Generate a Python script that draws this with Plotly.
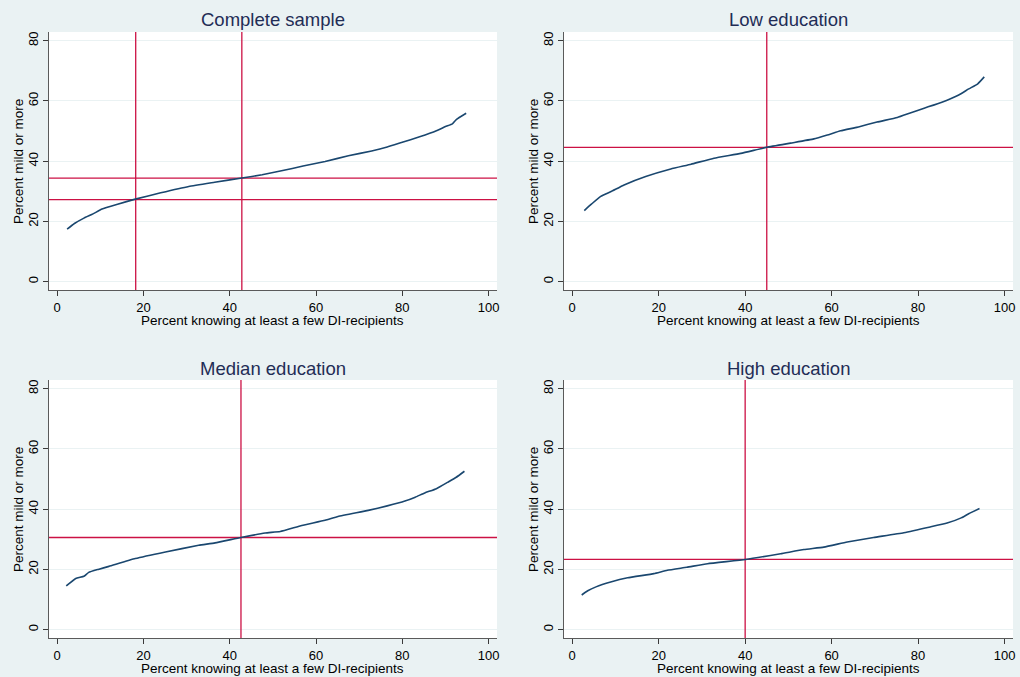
import plotly.graph_objects as go

# ---------------- data ----------------
titles = ["Complete sample", "Low education", "Median education", "High education"]

x_complete = [2.3, 4.0, 6.2, 8.3, 10.4, 14.0, 18.1, 24.0, 30.5, 36.5, 42.8, 47.5, 52.0, 57.0, 62.1, 67.5, 72.9, 76.5, 79.8, 84.0, 87.9, 90.0, 91.6, 92.5, 94.8]
y_complete = [17.4, 19.3, 21.1, 22.5, 24.1, 25.7, 27.4, 29.5, 31.6, 33.0, 34.4, 35.5, 36.8, 38.4, 39.9, 41.8, 43.4, 44.7, 46.2, 48.1, 50.1, 51.5, 52.4, 53.8, 55.9]

x_low = [2.8, 4.5, 6.6, 9.0, 12.0, 17.0, 22.8, 27.5, 32.8, 39.0, 45.0, 50.5, 55.9, 59.0, 62.1, 66.0, 70.5, 75.2, 78.0, 81.4, 85.5, 89.4, 91.7, 93.8, 95.3]
y_low = [23.6, 25.8, 28.3, 29.9, 32.1, 34.9, 37.4, 39.0, 41.0, 42.6, 44.6, 46.0, 47.4, 48.7, 50.1, 51.3, 53.0, 54.5, 55.9, 57.6, 59.6, 62.0, 64.0, 65.7, 68.0]

x_median = [2.1, 4.3, 6.2, 7.3, 9.5, 12.0, 18.1, 25.1, 32.8, 36.6, 42.6, 48.2, 51.7, 56.7, 62.1, 65.1, 72.1, 76.5, 80.6, 83.0, 85.2, 87.9, 90.6, 92.5, 94.4]
y_median = [14.5, 17.0, 17.7, 19.0, 20.0, 21.0, 23.6, 25.8, 28.0, 28.8, 30.6, 32.1, 32.6, 34.6, 36.3, 37.6, 39.6, 41.1, 42.7, 44.0, 45.4, 46.8, 49.0, 50.6, 52.6]

x_high = [2.2, 3.6, 5.5, 8.9, 12.8, 18.9, 22.0, 26.5, 31.3, 40.1, 48.2, 53.6, 58.2, 63.6, 69.7, 76.7, 82.8, 86.7, 90.1, 91.7, 94.2]
y_high = [11.5, 12.9, 14.2, 15.8, 17.2, 18.6, 19.7, 20.7, 21.9, 23.3, 25.2, 26.6, 27.4, 29.1, 30.6, 32.2, 34.1, 35.4, 37.2, 38.5, 40.2]

vlines = [[18.2, 42.8], [45.0], [42.6], [40.0]]
hlines = [[34.4, 27.2], [44.6], [30.6], [23.3]]

x_ticks = [0, 20, 40, 60, 80, 100]
y_ticks = [0, 20, 40, 60, 80]
x_title = "Percent knowing at least a few DI-recipients"
y_title = "Percent mild or more"

series_x = [x_complete, x_low, x_median, x_high]
series_y = [y_complete, y_low, y_median, y_high]

# ---------------- style / layout ----------------
W, H = 1020, 677
BG = "#EAF2F3"
NAVY = "#1A476F"
RED = "#CC1144"
TITLE_COL = "#1F2D56"
FONT = "Liberation Sans, Arial, sans-serif"
XR = [-1.92, 101.95]
YR = [-2.78, 82.9]

# pixel boxes of each plot area (left, right, top, bottom)
boxes = [(49, 498, 32, 290), (565, 1015, 32, 290),
         (49, 498, 380, 638), (565, 1015, 380, 638)]

fig = go.Figure()
annotations = []

for i in range(4):
    l, r, t, b = boxes[i]
    sfx = "" if i == 0 else str(i + 1)
    xa, ya = "x" + sfx, "y" + sfx
    # reference lines as traces spanning the axis ranges
    for v in vlines[i]:
        fig.add_trace(go.Scatter(x=[v, v], y=YR, mode="lines",
                                 line=dict(color=RED, width=1.3), xaxis=xa, yaxis=ya,
                                 showlegend=False, hoverinfo="skip"))
    for h in hlines[i]:
        fig.add_trace(go.Scatter(x=XR, y=[h, h], mode="lines",
                                 line=dict(color=RED, width=1.3), xaxis=xa, yaxis=ya,
                                 showlegend=False, hoverinfo="skip"))
    fig.add_trace(go.Scatter(x=series_x[i], y=series_y[i], mode="lines",
                             line=dict(color=NAVY, width=1.6, shape="spline", smoothing=0.4),
                             xaxis=xa, yaxis=ya, showlegend=False, hoverinfo="skip"))
    common = dict(showline=True, linecolor="#5a5a5a", linewidth=1.2, ticks="outside",
                  ticklen=5, tickcolor="#3a3a3a", tickwidth=1, zeroline=False,
                  tickfont=dict(size=13, color="#000000", family=FONT))
    fig.update_layout(**{
        "xaxis" + sfx: dict(domain=[l / W, r / W], anchor=ya, range=XR,
                            tickvals=x_ticks, showgrid=False, **common),
        "yaxis" + sfx: dict(domain=[1 - b / H, 1 - t / H], anchor=xa, range=YR,
                            tickvals=y_ticks, showgrid=True, gridcolor=BG, gridwidth=1,
                            tickangle=-90, **common),
    })
    # subplot title
    annotations.append(dict(text=titles[i], xref="paper", yref="paper",
                            x=(l + r) / 2 / W, y=1 - (t - 12) / H, xanchor="center", yanchor="middle",
                            showarrow=False, font=dict(size=18.5, color=TITLE_COL, family=FONT)))
    # x-axis title
    annotations.append(dict(text=x_title, xref="paper", yref="paper",
                            x=(l + r) / 2 / W, y=1 - (b + 30) / H, xanchor="center", yanchor="middle",
                            showarrow=False, font=dict(size=13.5, color="#000000", family=FONT)))
    # y-axis title
    annotations.append(dict(text=y_title, xref="paper", yref="paper",
                            x=(l - 31) / W, y=1 - (t + b) / 2 / H, xanchor="center", yanchor="middle",
                            textangle=-90, showarrow=False,
                            font=dict(size=13.5, color="#000000", family=FONT)))

fig.update_layout(width=W, height=H, autosize=False,
                  margin=dict(l=0, r=0, t=0, b=0),
                  paper_bgcolor=BG, plot_bgcolor="#FFFFFF",
                  annotations=annotations,
                  font=dict(family=FONT))

fig.write_html("out.html", config={"displayModeBar": False},
               post_script="document.body.style.margin='0';document.body.style.background='" + BG + "';")
